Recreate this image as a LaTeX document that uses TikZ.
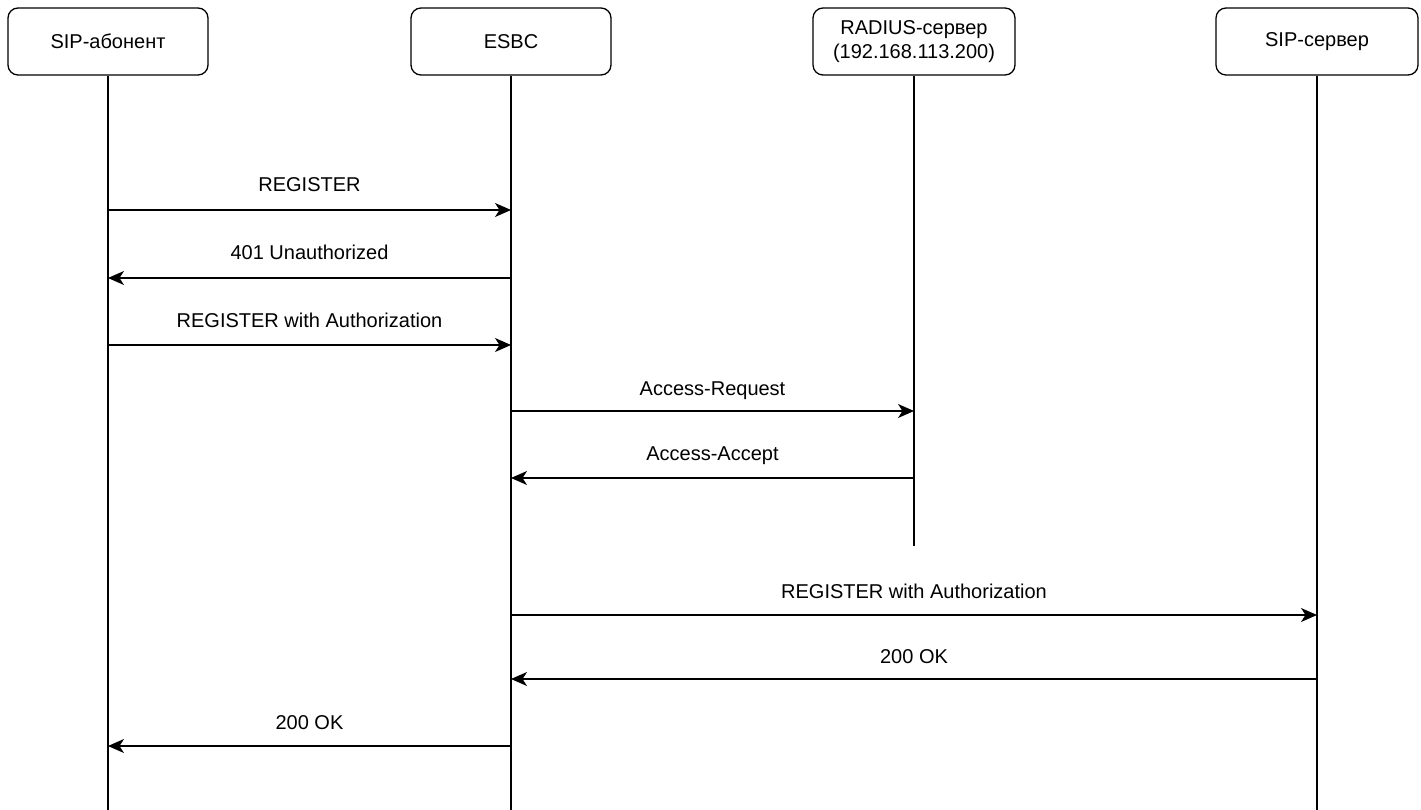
\documentclass[tikz,border=0pt]{standalone}
\usepackage{fontspec}
\setmainfont{Liberation Sans}
\usetikzlibrary{arrows.meta}
\begin{document}
\begin{tikzpicture}[x=1pt,y=-1pt,
  actor/.style={draw, line width=1.3pt, rounded corners=10pt, minimum width=200pt, minimum height=67pt, align=center, font=\fontsize{20}{24}\selectfont, inner sep=0pt},
  life/.style={line width=1.3pt},
  msg/.style={line width=1.3pt, -{Stealth[length=16pt,width=14pt,inset=4.5pt]}},
  lbl/.style={font=\fontsize{20}{24}\selectfont, anchor=base}]
\useasboundingbox (0,0) rectangle (1421,810);
\node[actor] (a) at (108,41.5) {SIP-абонент};
\node[actor] (b) at (511,41.5) {ESBC};
\node[actor, minimum width=202pt] (c) at (914,41.5) {RADIUS-сервер\\(192.168.113.200)};
\node[actor, minimum width=202pt] (d) at (1317,41.5) {SIP-сервер};
\coordinate (aE) at (108,812);
\coordinate (bE) at (511,812);
\coordinate (cE) at (914,546);
\coordinate (dE) at (1317,812);
\draw[life] (a.south) -- (aE);
\draw[life] (b.south) -- (bE);
\draw[life] (c.south) -- (cE);
\draw[life] (d.south) -- (dE);
% message points
\foreach \n/\y in {1/210,2/278,3/345,4/411,5/478,6/615,7/679,8/746}{
  \coordinate (a\n) at (108,\y);
  \coordinate (b\n) at (511,\y);
  \coordinate (c\n) at (914,\y);
  \coordinate (d\n) at (1317,\y);
}
\draw[msg] (a1) -- (b1) node[lbl, midway, yshift=18pt] {REGISTER};
\draw[msg] (b2) -- (a2) node[lbl, midway, yshift=18pt] {401 Unauthorized};
\draw[msg] (a3) -- (b3) node[lbl, midway, yshift=18pt] {REGISTER with Authorization};
\draw[msg] (b4) -- (c4) node[lbl, midway, yshift=16pt] {Access-Request};
\draw[msg] (c5) -- (b5) node[lbl, midway, yshift=18pt] {Access-Accept};
\draw[msg] (b6) -- (d6) node[lbl, midway, yshift=17pt] {REGISTER with Authorization};
\draw[msg] (d7) -- (b7) node[lbl, midway, yshift=16pt] {200 OK};
\draw[msg] (b8) -- (a8) node[lbl, midway, yshift=17pt] {200 OK};
\end{tikzpicture}
\end{document}
